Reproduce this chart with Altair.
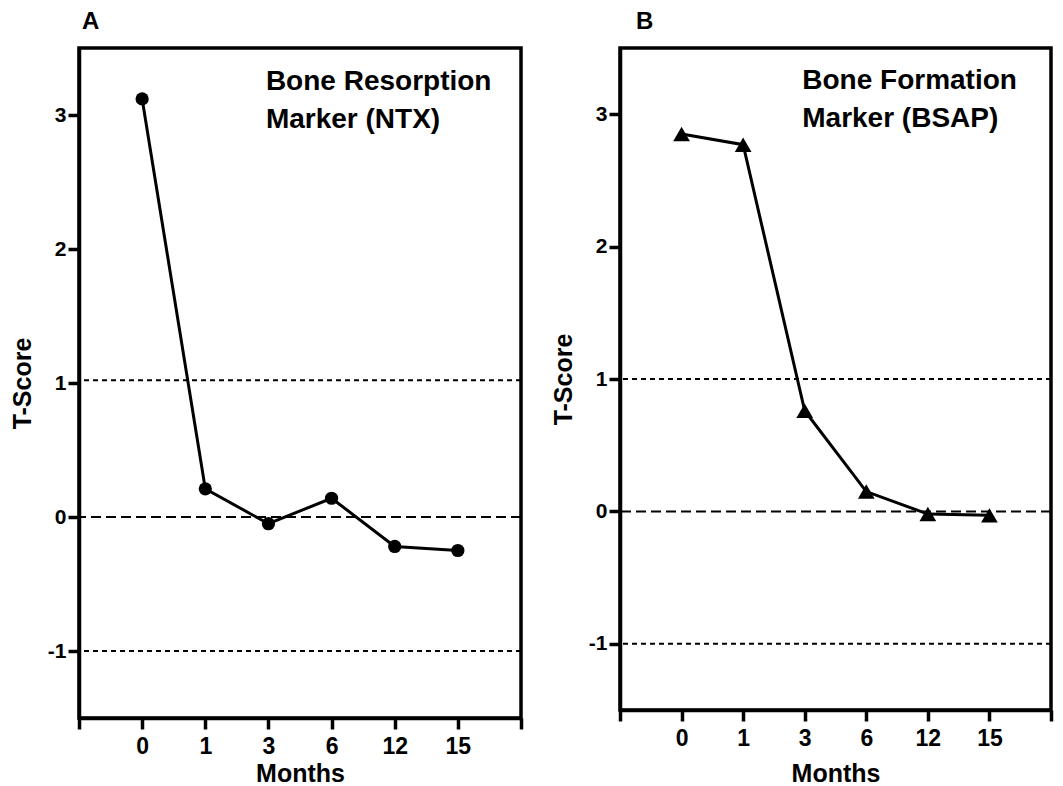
import json
import altair as alt
import pandas as pd

months = ["0", "1", "3", "6", "12", "15"]
ntx = [3.12, 0.21, -0.05, 0.14, -0.22, -0.25]
bsap = [2.85, 2.77, 0.76, 0.15, -0.02, -0.03]
dotted_a = [1.02, -1.0]
dotted_b = [1.0, -1.0]
dashed = [0.0]
y_ticks = [-1, 0, 1, 2, 3]

FONT = "Liberation Sans"
x_label_expr = ("datum.value >= 0 && datum.value < %d ? %s[datum.value] : ''"
                % (len(months), json.dumps(months)))
y_label_expr = "datum.value < 0 ? '-' + (-datum.value) : '' + datum.value"


def panel(values, shape, size, letter, lines, w, h, title_dx,
          x_title_pad, dotted):
    df = pd.DataFrame({"pos": list(range(len(months))), "month": months, "t": values})
    x = alt.X("pos:Q",
              scale=alt.Scale(domain=[-1, len(months)], nice=False, zero=False),
              axis=alt.Axis(values=list(range(-1, len(months) + 1)),
                            labelExpr=x_label_expr, title="Months",
                            titlePadding=x_title_pad, labelPadding=6,
                            grid=False))
    y = alt.Y("t:Q", scale=alt.Scale(domain=[-1.5, 3.5], nice=False),
              axis=alt.Axis(values=y_ticks, labelExpr=y_label_expr,
                            title="T-Score", titlePadding=12, labelPadding=2,
                            grid=False))
    base = alt.Chart(df)
    line = base.mark_line(color="black", strokeWidth=3).encode(x=x, y=y)
    pts = base.mark_point(shape=shape, size=size, filled=True, color="black",
                          opacity=1).encode(x="pos:Q", y="t:Q")
    dot_rules = alt.Chart(pd.DataFrame({"y": dotted})).mark_rule(
        color="black", strokeWidth=2, strokeDash=[5, 4]).encode(y="y:Q")
    dash_rules = alt.Chart(pd.DataFrame({"y": dashed})).mark_rule(
        color="black", strokeWidth=2, strokeDash=[10, 5]).encode(y="y:Q")
    txt = alt.Chart().mark_text(
        text=lines, align="left", baseline="alphabetic", fontSize=28,
        fontWeight="bold", font=FONT, lineHeight=38, color="black"
    ).encode(x=alt.datum(1.96), y=alt.datum(3.19))
    return alt.layer(dot_rules, dash_rules, line, pts, txt).properties(
        width=w, height=h,
        title=alt.TitleParams(letter, anchor="start", frame="group",
                              fontSize=24, fontWeight="bold", font=FONT,
                              offset=14, dx=title_dx, color="black"))


a = panel(ntx, "circle", 175, "A", ["Bone Resorption", "Marker (NTX)"],
          442, 670, 3, 3, dotted_a)
b = panel(bsap, "triangle-up", 280, "B", ["Bone Formation", "Marker (BSAP)"],
          431, 662, 16, 11, dotted_b)

chart = alt.hconcat(a, b, spacing=24).properties(padding=0).configure_view(
    stroke="black", strokeWidth=3.5
).configure_axis(
    domainColor="black", domainWidth=3.5, tickColor="black", tickWidth=3.5,
    tickSize=11, labelFont=FONT, labelFontWeight="bold", labelColor="black",
    titleFont=FONT, titleFontWeight="bold", titleColor="black", titleFontSize=25
).configure_axisX(labelFontSize=23).configure_axisY(labelFontSize=21)

chart.save("out.html", embed_options={"renderer": "svg", "actions": False})
